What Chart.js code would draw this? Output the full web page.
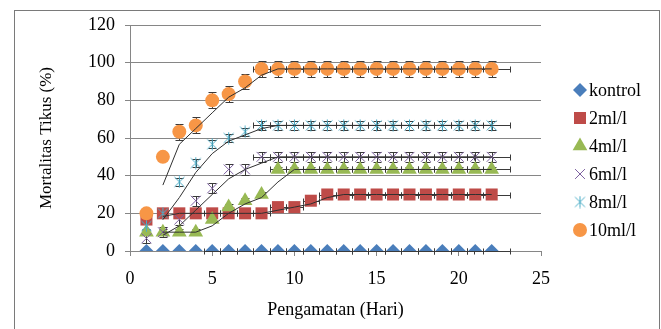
<!DOCTYPE html>
<html>
<head>
<meta charset="utf-8">
<title>Mortalitas Tikus</title>
<script src="https://cdn.jsdelivr.net/npm/chart.js@4.4.0/dist/chart.umd.min.js"></script>
<style>
  html, body { margin: 0; padding: 0; background: #ffffff; }
  #wrap { width: 661px; height: 329px; }
</style>
</head>
<body>
<div id="wrap"><canvas id="mortalitasChart" width="661" height="329"></canvas></div>
<script>
// Data
const hari = [1, 2, 3, 4, 5, 6, 7, 8, 9, 10, 11, 12, 13, 14, 15, 16, 17, 18, 19, 20, 21, 22];
const namaSeri = ['kontrol', '2ml/l', '4ml/l', '6ml/l', '8ml/l', '10ml/l'];

const kontrol  = [0, 0, 0, 0, 0, 0, 0, 0, 0, 0, 0, 0, 0, 0, 0, 0, 0, 0, 0, 0, 0, 0];
const dosis2   = [16.7, 20, 20, 20, 20, 20, 20, 20, 23.3, 23.3, 26.7, 30, 30, 30, 30, 30, 30, 30, 30, 30, 30, 30];
const dosis4   = [10, 10, 10, 10, 16.7, 23.3, 26.7, 30, 43.3, 43.3, 43.3, 43.3, 43.3, 43.3, 43.3, 43.3, 43.3, 43.3, 43.3, 43.3, 43.3, 43.3];
const dosis6   = [6.7, 10, 16.7, 26.7, 33.3, 43.3, 43.3, 50, 50, 50, 50, 50, 50, 50, 50, 50, 50, 50, 50, 50, 50, 50];
const dosis8   = [13.3, 20, 36.7, 46.7, 56.7, 60, 63.3, 66.7, 66.7, 66.7, 66.7, 66.7, 66.7, 66.7, 66.7, 66.7, 66.7, 66.7, 66.7, 66.7, 66.7, 66.7];
const dosis10  = [20, 50, 63.3, 66.7, 80, 83.3, 90, 96.7, 96.7, 96.7, 96.7, 96.7, 96.7, 96.7, 96.7, 96.7, 96.7, 96.7, 96.7, 96.7, 96.7, 96.7];

// galat (error bar) vertikal per seri, dan horizontal per hari
const galatY = [0, 0, 1.5, 2.7, 2.2, 4.2];
const galatYMulai = [1, 1, 1, 1, 1, 3];
const galatX = [0, 0, 0, 0, 0.5, 0.5, 0.5, 0.5, 0.5, 0.5, 0.5, 0.5, 0.5, 0.5, 0.5, 0.5, 0.5, 0.5, 0.5, 0.5, 0.5, 1.1];
const galatXMulai = [5, 5, 9, 8, 8, 8];

const yTicks = [0, 20, 40, 60, 80, 100, 120];
const xTicks = [0, 5, 10, 15, 20, 25];

const semuaSeri = [kontrol, dosis2, dosis4, dosis6, dosis8, dosis10];
const adaTrend = [false, true, true, true, true, true];

const FONT = 'Liberation Serif, DejaVu Serif, serif';
const warna = ['#4A7EBB', '#BE4B48', '#98B954', '#7D60A0', '#4BACC6', '#F79646'];

// asterisk marker like the Excel one
function buatBintang(color) {
    const c = document.createElement('canvas');
    c.width = 13; c.height = 13;
    const g = c.getContext('2d');
    g.strokeStyle = color;
    g.lineWidth = 1;
    g.beginPath();
    g.moveTo(6.5, 0.5); g.lineTo(6.5, 12.5);
    g.moveTo(1.5, 1.5); g.lineTo(11.5, 11.5);
    g.moveTo(11.5, 1.5); g.lineTo(1.5, 11.5);
    g.stroke();
    return c;
}

const gayaTitik = [
    { pointStyle: 'rectRot', radius: 7, borderWidth: 0 },
    { pointStyle: 'rect', radius: 8.5, borderWidth: 0 },
    { pointStyle: 'triangle', radius: 8.5, borderWidth: 0 },
    { pointStyle: 'crossRot', radius: 7, borderWidth: 1 },
    { pointStyle: buatBintang(warna[4]), radius: 6, borderWidth: 1 },
    { pointStyle: 'circle', radius: 7, borderWidth: 0 }
];

function rataBergerak(vals) {
    const out = [];
    for (let i = 1; i < vals.length; i++) {
        out.push({ x: hari[i], y: (vals[i - 1] + vals[i]) / 2 });
    }
    return out;
}

const datasets = [];
semuaSeri.forEach((vals, i) => {
    if (!adaTrend[i]) return;
    datasets.push({
        type: 'line',
        label: 'trend ' + namaSeri[i],
        data: rataBergerak(vals),
        borderColor: '#303030',
        borderWidth: 1,
        pointRadius: 0,
        fill: false,
        tension: 0,
        order: 1
    });
});
semuaSeri.forEach((vals, i) => {
    datasets.push({
        type: 'scatter',
        label: namaSeri[i],
        data: vals.map((v, j) => ({ x: hari[j], y: v })),
        pointStyle: gayaTitik[i].pointStyle,
        pointRadius: gayaTitik[i].radius,
        pointHoverRadius: gayaTitik[i].radius,
        backgroundColor: warna[i],
        borderColor: warna[i],
        borderWidth: gayaTitik[i].borderWidth,
        order: 10 - i
    });
});

// outer chart frame (bottom edge falls outside the picture)
const bingkaiPlugin = {
    id: 'bingkai',
    afterDraw(chart) {
        const { ctx } = chart;
        ctx.save();
        ctx.fillStyle = '#7a7a7a';
        ctx.fillRect(14, 10, 1, 329 - 10);
        ctx.fillRect(14, 10, 646, 1);
        ctx.fillRect(659, 10, 1, 329 - 10);
        ctx.restore();
    }
};

const galatPlugin = {
    id: 'galat',
    beforeDatasetsDraw(chart) {
        const { ctx, scales: { x, y } } = chart;
        const r = v => Math.round(v) + 0.5;
        ctx.save();
        ctx.strokeStyle = '#3a3a3a';
        ctx.lineWidth = 1;
        ctx.beginPath();
        semuaSeri.forEach((vals, i) => {
            vals.forEach((v, j) => {
                const px = r(x.getPixelForValue(hari[j]));
                const py = r(y.getPixelForValue(v));
                const ey = galatY[i];
                if (ey > 0 && hari[j] >= galatYMulai[i]) {
                    const t = r(y.getPixelForValue(v + ey));
                    const b = r(y.getPixelForValue(v - ey));
                    ctx.moveTo(px, t); ctx.lineTo(px, b);
                    ctx.moveTo(px - 4, t); ctx.lineTo(px + 4, t);
                    ctx.moveTo(px - 4, b); ctx.lineTo(px + 4, b);
                }
                const ex = galatX[j];
                if (ex > 0 && hari[j] >= galatXMulai[i]) {
                    const kiri = r(x.getPixelForValue(hari[j] - ex));
                    const kanan = r(x.getPixelForValue(hari[j] + ex));
                    ctx.moveTo(kiri, py); ctx.lineTo(kanan, py);
                    ctx.moveTo(kiri, py - 3); ctx.lineTo(kiri, py + 3);
                    ctx.moveTo(kanan, py - 3); ctx.lineTo(kanan, py + 3);
                }
            });
        });
        ctx.stroke();
        ctx.restore();
    }
};

const legendaPlugin = {
    id: 'legenda',
    afterDraw(chart) {
        const { ctx } = chart;
        ctx.save();
        ctx.font = '18px ' + FONT;
        ctx.textBaseline = 'middle';
        ctx.textAlign = 'left';
        namaSeri.forEach((nama, i) => {
            const yy = 90 + i * 28;
            ctx.fillStyle = warna[i];
            ctx.strokeStyle = warna[i];
            ctx.lineWidth = gayaTitik[i].borderWidth || 1;
            Chart.helpers.drawPoint(ctx, {
                pointStyle: gayaTitik[i].pointStyle,
                radius: gayaTitik[i].radius,
                rotation: 0,
                borderWidth: gayaTitik[i].borderWidth
            }, 580, yy);
            ctx.fillStyle = '#000000';
            ctx.fillText(nama, 589, yy + 1);
        });
        ctx.restore();
    }
};

const ctx = document.getElementById('mortalitasChart').getContext('2d');
const mortalitasChart = new Chart(ctx, {
    data: { datasets: datasets },
    options: {
        responsive: false,
        animation: false,
        layout: { padding: { left: 14, right: 120, top: 25, bottom: 0 } },
        plugins: {
            legend: { display: false },
            tooltip: { enabled: false }
        },
        scales: {
            x: {
                type: 'linear',
                min: xTicks[0],
                max: xTicks[xTicks.length - 1],
                afterBuildTicks: s => { s.ticks = xTicks.map(v => ({ value: v })); },
                ticks: { color: '#000000', font: { family: FONT, size: 18 }, padding: 12 },
                grid: { drawOnChartArea: false, color: '#868686', tickLength: 5 },
                border: { color: '#868686' },
                title: {
                    display: true,
                    text: 'Pengamatan (Hari)',
                    color: '#000000',
                    font: { family: FONT, size: 18 },
                    padding: { top: 0, bottom: 8 }
                },
                afterFit: s => { s.height = 78; }
            },
            y: {
                type: 'linear',
                min: yTicks[0],
                max: yTicks[yTicks.length - 1],
                afterBuildTicks: s => { s.ticks = yTicks.map(v => ({ value: v })); },
                ticks: { color: '#000000', font: { family: FONT, size: 18 }, padding: 10 },
                grid: { color: '#868686', tickLength: 5 },
                border: { color: '#868686' },
                title: {
                    display: true,
                    text: 'Mortalitas Tikus (%)',
                    color: '#000000',
                    font: { family: FONT, size: 17 },
                    padding: { top: 22, bottom: 0 }
                },
                afterFit: s => { s.width = 116; }
            }
        }
    },
    plugins: [bingkaiPlugin, galatPlugin, legendaPlugin]
});
</script>
</body>
</html>
